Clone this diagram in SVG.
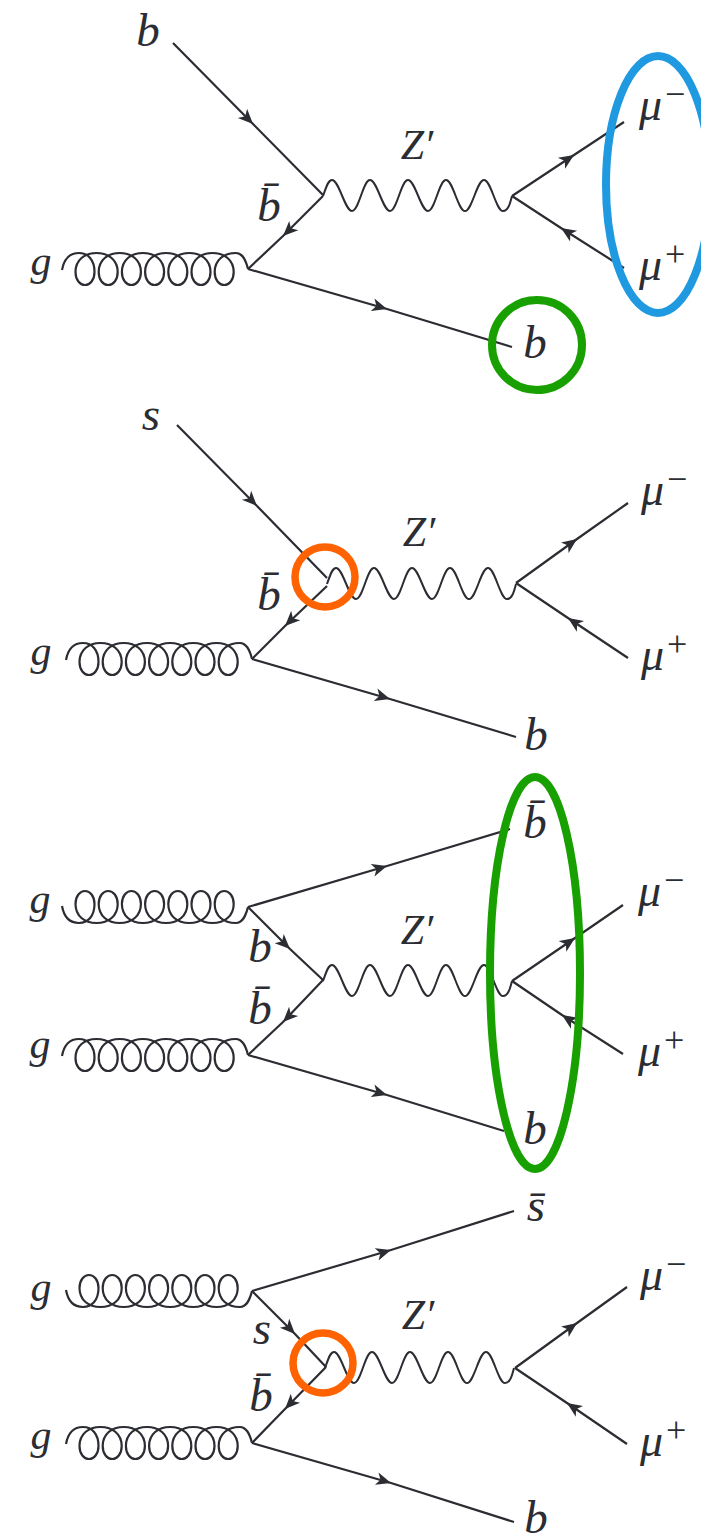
<svg xmlns="http://www.w3.org/2000/svg" width="701" height="1535" viewBox="0 0 701 1535">
<style>
.f{fill:none;stroke:#2b2d33;stroke-width:2.2;marker-mid:url(#ah)}
.w{fill:none;stroke:#2b2d33;stroke-width:2}
.g{fill:none;stroke:#2b2d33;stroke-width:2.2}
.t{font-family:"Liberation Serif",serif;font-style:italic;font-size:47px;fill:#2b2d33;text-anchor:middle}
.n{font-size:42px}
.m{font-family:"Liberation Serif",serif;font-style:italic;font-size:46px;fill:#2b2d33}
.s{font-family:"Liberation Serif",serif;font-style:normal;font-size:36px}
.blue{fill:none;stroke:#1f99e0;stroke-width:8}
.green{fill:none;stroke:#18a000;stroke-width:8}
.orange{fill:none;stroke:#ff6200;stroke-width:7.500}
</style>
<defs>
<marker id="ah" markerUnits="userSpaceOnUse" markerWidth="17" markerHeight="16" refX="15" refY="8" orient="auto">
<path d="M0,1.500 L15,8 L0,14.500 L4,8 Z" fill="#2b2d33"/>
</marker>
<path id="wig" d="M0,0 C3,-8 5,-16 9,-16 C16,-16 22,15 29,15 C36,15 40,-16 47,-16 C54,-16 60,15 67,15 C74,15 78,-16 85,-16 C92,-16 98,15 105,15 C112,15 116,-16 123,-16 C130,-16 135,15 142,15 C149,15 154,-16 161,-16 C168,-16 173,15 180,15 C185,15 187,8 189,0"/>
<path id="glu" d="M-186,1 C-184,-10 -178,-16 -169,-16 C-160,-16 -153.500,-9 -153.500,3 c0,8 -4.500,13 -9.500,13 c-5,0 -9.500,-5 -9.500,-13 c0,-12 9,-19 21,-19 c12,0 21.200,7 21.200,19 c0,8 -4.500,13 -9.500,13 c-5,0 -9.500,-5 -9.500,-13 c0,-12 9,-19 21,-19 c12,0 21.200,7 21.200,19 c0,8 -4.500,13 -9.500,13 c-5,0 -9.500,-5 -9.500,-13 c0,-12 9,-19 21,-19 c12,0 21.200,7 21.200,19 c0,8 -4.500,13 -9.500,13 c-5,0 -9.500,-5 -9.500,-13 c0,-12 9,-19 21,-19 c12,0 21.200,7 21.200,19 c0,8 -4.500,13 -9.500,13 c-5,0 -9.500,-5 -9.500,-13 c0,-12 9,-19 21,-19 c12,0 21.200,7 21.200,19 c0,8 -4.500,13 -9.500,13 c-5,0 -9.500,-5 -9.500,-13 c0,-12 9,-19 21,-19 c12,0 21.200,7 21.200,19 c0,8 -4.500,13 -9.500,13 c-5,0 -9.500,-5 -9.500,-13 c0,-12 9,-19 21,-19 c7,0 10,7 12.300,16"/>
</defs>
<rect width="701" height="1535" fill="#fff"/>
<g id="connectors">
<!-- diagram 1 -->
<path class="f" d="M173,43 L253,124 L323,195"/>
<path class="f" d="M323,196 L283,236 L248,269"/>
<path class="f" d="M248,269 L387,309 L512,347"/>
<path class="f" d="M512,196 L574,155 L624,122"/>
<path class="f" d="M624,268 L561,228 L512,196"/>
<use href="#wig" class="w" x="323" y="196"/>
<use href="#glu" class="g" x="248" y="269"/>
<!-- diagram 2 -->
<path class="f" d="M177,425 L257,506 L327,578"/>
<path class="f" d="M327,586 L285,626 L252,659"/>
<path class="f" d="M252,659 L390,699 L516,737"/>
<path class="f" d="M516,583 L577,539 L628,503"/>
<path class="f" d="M628,658 L568,618 L516,583"/>
<use href="#wig" class="w" x="327" y="584"/>
<use href="#glu" class="g" x="252" y="659"/>
<!-- diagram 3 -->
<path class="f" d="M248,907 L387,866 L510,829"/>
<path class="f" d="M248,907 L290,949 L323,980"/>
<path class="f" d="M323,980 L283,1022 L248,1055"/>
<path class="f" d="M248,1055 L387,1095 L504,1131"/>
<path class="f" d="M512,981 L575,938 L623,905"/>
<path class="f" d="M623,1054 L562,1015 L512,981"/>
<use href="#wig" class="w" x="323" y="981"/>
<use href="#glu" class="g" transform="translate(248,907) scale(1,-1)"/>
<use href="#glu" class="g" x="248" y="1055"/>
<!-- diagram 4 -->
<path class="f" d="M252,1291 L391,1250 L514,1211"/>
<path class="f" d="M252,1291 L295,1334 L326,1367"/>
<path class="f" d="M326,1367 L285,1409 L252,1443"/>
<path class="f" d="M252,1443 L391,1483 L514,1522"/>
<path class="f" d="M515,1368 L577,1323 L627,1287"/>
<path class="f" d="M627,1444 L567,1403 L515,1368"/>
<use href="#wig" class="w" x="325" y="1368"/>
<use href="#glu" class="g" transform="translate(252,1291) scale(1,-1)"/>
<use href="#glu" class="g" x="252" y="1443"/>
</g>
<g id="highlight-blue"><ellipse class="blue" cx="658" cy="184.500" rx="52" ry="128.500"/></g>
<g id="highlight-green-1"><circle class="green" cx="537" cy="345" r="45"/></g>
<g id="highlight-orange-1"><circle class="orange" cx="325" cy="577" r="30"/></g>
<g id="highlight-green-2"><ellipse class="green" cx="535" cy="973" rx="45" ry="196"/></g>
<g id="highlight-orange-2"><circle class="orange" cx="323" cy="1363" r="30"/></g>
<g id="d1-labels">
<g id="d1-b-in"><text class="t" x="148" y="46">b</text></g>
<g id="d1-bbar"><text class="t" x="269" y="221">b̄</text></g>
<g id="d1-g"><text class="t n" x="41" y="275">g</text></g>
<g id="d1-z"><text class="t n" x="417" y="159">Z′</text></g>
<g id="d1-mum"><text class="m" x="639" y="120">μ<tspan class="s" dx="3" dy="-14">−</tspan></text></g>
<g id="d1-mup"><text class="m" x="639" y="280">μ<tspan class="s" dx="3" dy="-14">+</tspan></text></g>
<g id="d1-b-out"><text class="t" x="535" y="358">b</text></g>
</g>
<g id="d2-labels">
<g id="d2-s"><text class="t" x="151" y="430">s</text></g>
<g id="d2-bbar"><text class="t" x="269" y="610">b̄</text></g>
<g id="d2-g"><text class="t n" x="41" y="665">g</text></g>
<g id="d2-z"><text class="t n" x="419" y="546">Z′</text></g>
<g id="d2-mum"><text class="m" x="641" y="505">μ<tspan class="s" dx="3" dy="-14">−</tspan></text></g>
<g id="d2-mup"><text class="m" x="641" y="670">μ<tspan class="s" dx="3" dy="-14">+</tspan></text></g>
<g id="d2-b-out"><text class="t" x="536" y="750">b</text></g>
</g>
<g id="d3-labels">
<g id="d3-g1"><text class="t n" x="40" y="913">g</text></g>
<g id="d3-g2"><text class="t n" x="40" y="1058">g</text></g>
<g id="d3-b"><text class="t" x="260" y="962">b</text></g>
<g id="d3-bbar"><text class="t" x="260" y="1024">b̄</text></g>
<g id="d3-z"><text class="t n" x="417" y="944">Z′</text></g>
<g id="d3-bbar-out"><text class="t" x="535" y="838">b̄</text></g>
<g id="d3-mum"><text class="m" x="638" y="906">μ<tspan class="s" dx="3" dy="-14">−</tspan></text></g>
<g id="d3-mup"><text class="m" x="638" y="1066">μ<tspan class="s" dx="3" dy="-14">+</tspan></text></g>
<g id="d3-b-out"><text class="t" x="535" y="1144">b</text></g>
</g>
<g id="d4-labels">
<g id="d4-g1"><text class="t n" x="41" y="1301">g</text></g>
<g id="d4-g2"><text class="t n" x="41" y="1449">g</text></g>
<g id="d4-s"><text class="t" x="262" y="1344">s</text></g>
<g id="d4-bbar"><text class="t" x="261" y="1411">b̄</text></g>
<g id="d4-z"><text class="t n" x="418" y="1329">Z′</text></g>
<g id="d4-sbar"><text class="t" x="536" y="1221">s̄</text></g>
<g id="d4-mum"><text class="m" x="640" y="1290">μ<tspan class="s" dx="3" dy="-14">−</tspan></text></g>
<g id="d4-mup"><text class="m" x="640" y="1456">μ<tspan class="s" dx="3" dy="-14">+</tspan></text></g>
<g id="d4-b-out"><text class="t" x="536" y="1533">b</text></g>
</g>
</svg>
